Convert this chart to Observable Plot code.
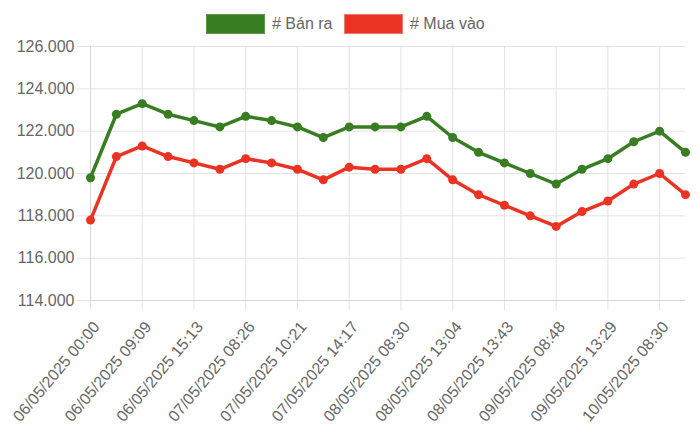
<!DOCTYPE html>
<html>
<head>
<meta charset="utf-8">
<script src="https://cdn.jsdelivr.net/npm/d3@7"></script>
<script src="https://cdn.jsdelivr.net/npm/@observablehq/plot@0.6"></script>
<style>
  html, body { margin: 0; padding: 0; background: #fff; }
  body { width: 700px; height: 440px; overflow: hidden; font-family: "Liberation Sans", Arial, Helvetica, sans-serif; color: #666; }
  #legend { position: relative; height: 36px; width: 700px; }
  .box { position: absolute; top: 14px; width: 57px; height: 18px; border: 1px solid; }
  .lbl { position: absolute; top: 14px; line-height: 20px; font-size: 16px; color: #666; white-space: nowrap; }
  #chart svg { display: block; }
</style>
</head>
<body>
<div id="legend"></div>
<div id="chart"></div>
<script>
const seriesNames = ["# Bán ra", "# Mua vào"];
const seriesColors = ["#387d22", "#eb3323"];
const tickLabels = [
  "06/05/2025 00:00", "06/05/2025 09:09", "06/05/2025 15:13", "07/05/2025 08:26",
  "07/05/2025 10:21", "07/05/2025 14:17", "08/05/2025 08:30", "08/05/2025 13:04",
  "08/05/2025 13:43", "09/05/2025 08:48", "09/05/2025 13:29", "10/05/2025 08:30"
];
const banRa = [119.8, 122.8, 123.3, 122.8, 122.5, 122.2, 122.7, 122.5, 122.2, 121.7, 122.2, 122.2,
               122.2, 122.7, 121.7, 121.0, 120.5, 120.0, 119.5, 120.2, 120.7, 121.5, 122.0, 121.0];
const muaVao = [117.8, 120.8, 121.3, 120.8, 120.5, 120.2, 120.7, 120.5, 120.2, 119.7, 120.3, 120.2,
                120.2, 120.7, 119.7, 119.0, 118.5, 118.0, 117.5, 118.2, 118.7, 119.5, 120.0, 119.0];
const yTicks = [114, 116, 118, 120, 122, 124, 126];

// legend
const legend = document.getElementById("legend");
const legendPos = [[206, 272], [344, 410]];
seriesNames.forEach((name, i) => {
  const b = document.createElement("div");
  b.className = "box";
  b.style.left = legendPos[i][0] + "px";
  b.style.background = seriesColors[i];
  b.style.borderColor = i === 0 ? "#5a9a45" : "#f07a70";
  legend.appendChild(b);
  const t = document.createElement("div");
  t.className = "lbl";
  t.style.left = legendPos[i][1] + "px";
  t.textContent = name;
  legend.appendChild(t);
});

const rows = [];
banRa.forEach((v, i) => rows.push({i, v, s: seriesNames[0]}));
muaVao.forEach((v, i) => rows.push({i, v, s: seriesNames[1]}));
const idx = banRa.map((_, i) => i);
const labeledIdx = idx.filter(i => i % 2 === 0);
const fmt = d3.format(",");

const chart = Plot.plot({
  width: 700,
  height: 404,
  marginTop: 10,
  marginLeft: 90,
  marginRight: 15,
  marginBottom: 140,
  style: { fontFamily: '"Liberation Sans", Arial, Helvetica, sans-serif', fontSize: "16px", color: "#666", background: "#fff", overflow: "visible" },
  x: { type: "point", domain: idx, padding: 0, round: false },
  y: { domain: [114, 126] },
  color: { domain: seriesNames, range: seriesColors },
  marks: [
    Plot.gridY(yTicks, { stroke: "#e3e3e3", strokeOpacity: 1, strokeWidth: 1 }),
    Plot.gridX(labeledIdx, { stroke: "#e3e3e3", strokeOpacity: 1, strokeWidth: 1 }),
    Plot.axisY(yTicks, {
      tickSize: 13, tickPadding: 3, stroke: "#e3e3e3", strokeOpacity: 1,
      tickFormat: d => fmt(d * 1000).replace(/,/g, "."),
      fill: "#666", fontSize: 16, label: null
    }),
    Plot.axisX(labeledIdx, {
      tickSize: 10, stroke: "#e3e3e3", strokeOpacity: 1, label: null, tickFormat: () => ""
    }),
    Plot.axisX(labeledIdx, {
      tickSize: 0, tickPadding: 23.5, dx: 6,
      tickRotate: -50, tickFormat: i => tickLabels[i / 2],
      fill: "#666", fontSize: 16, label: null
    }),
    Plot.ruleX([0], { stroke: "#d6d6d6", strokeWidth: 1 }),
    Plot.ruleY([114], { stroke: "#d6d6d6", strokeWidth: 1 }),
    Plot.line(rows, { x: "i", y: "v", z: "s", stroke: "s", strokeWidth: 3.5, curve: "linear" }),
    Plot.dot(rows, { x: "i", y: "v", fill: "s", r: 4.5, stroke: null })
  ]
});
document.getElementById("chart").appendChild(chart);
</script>
</body>
</html>
